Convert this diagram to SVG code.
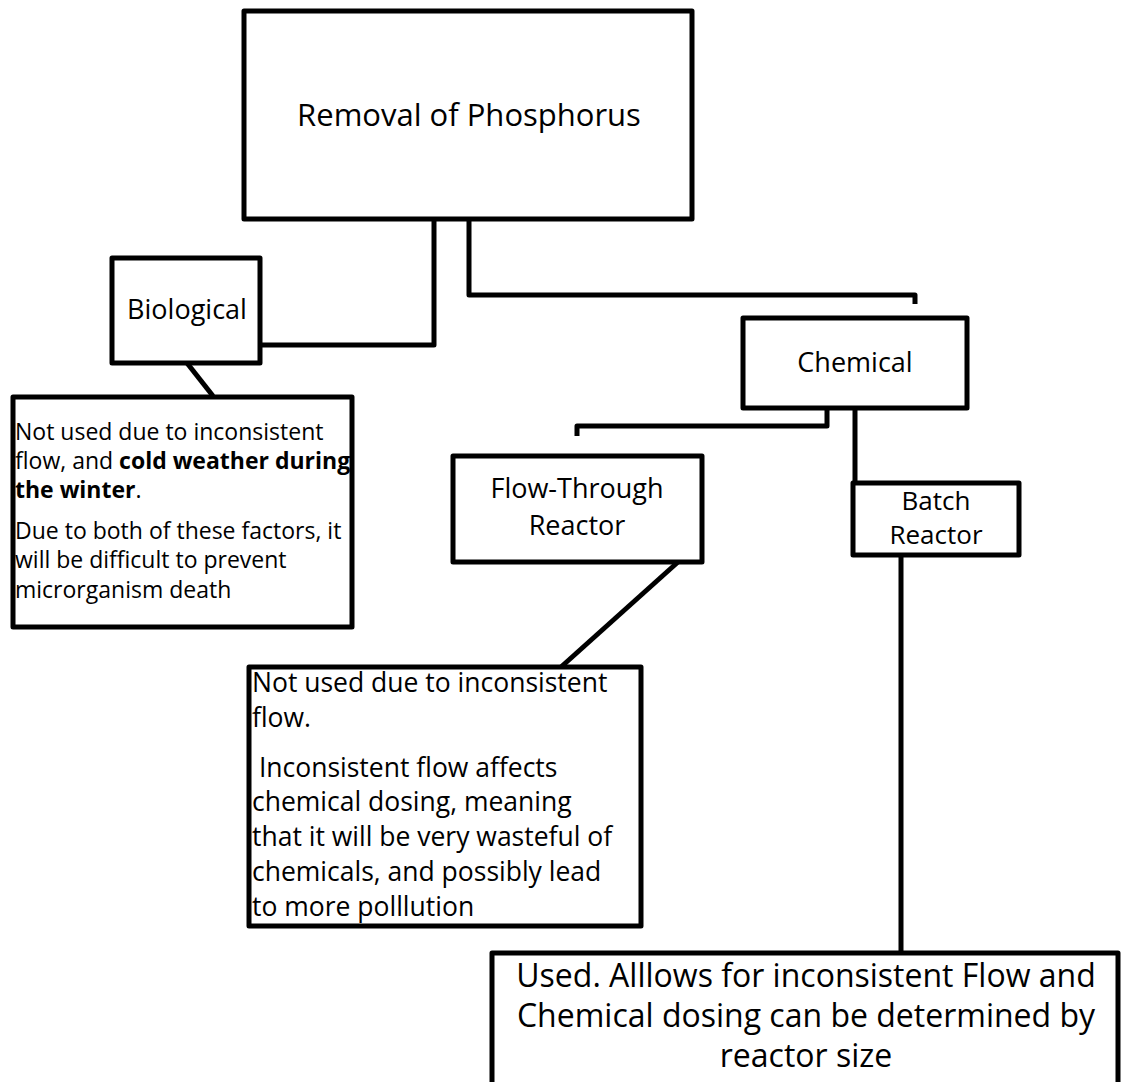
<svg xmlns="http://www.w3.org/2000/svg" width="1123" height="1082" viewBox="0 0 1123 1082">
  <style>
    .box { fill: #ffffff; stroke: #000000; stroke-width: 5; stroke-linejoin: round; }
    .wire { fill: none; stroke: #000000; stroke-width: 5; stroke-linejoin: round; }
    text { font-family: "Open Sans", "Noto Sans", "Liberation Sans", sans-serif; fill: #000000; }
    .title { font-size: 31px; text-anchor: middle; }
    .label { font-size: 27px; text-anchor: middle; }
    .label2 { font-size: 26px; text-anchor: middle; }
    .note { font-size: 23px; }
    .note2 { font-size: 26.5px; white-space: pre; }
    .note3 { font-size: 32px; text-anchor: middle; }
    .b { font-weight: bold; }
  </style>

  <rect width="1123" height="1082" fill="#ffffff"/>

  <!-- connectors -->
  <g id="connectors">
    <path class="wire" d="M434 220 V345 H260"/>
    <path class="wire" d="M469 220 V295 H915 V304"/>
    <path class="wire" d="M187 363 L213 396"/>
    <path class="wire" d="M827 408 V426 H577 V436"/>
    <path class="wire" d="M855 408 V483"/>
    <path class="wire" d="M678 562 L561 667"/>
    <path class="wire" d="M901 555 V953"/>
  </g>

  <!-- root -->
  <g id="node-removal">
    <rect class="box" x="244" y="11" width="448" height="208"/>
    <text class="title" x="469" y="126">Removal of Phosphorus</text>
  </g>

  <g id="node-biological">
    <rect class="box" x="112" y="258" width="148" height="105"/>
    <text class="label" x="187" y="319">Biological</text>
  </g>

  <g id="node-biological-note">
    <rect class="box" x="13" y="397" width="339" height="230"/>
    <text class="note" x="15" y="440">Not used due to inconsistent</text>
    <text class="note" x="15" y="469">flow, and <tspan class="b">cold weather during</tspan></text>
    <text class="note" x="15" y="498"><tspan class="b">the winter</tspan>.</text>
    <text class="note" x="15" y="539">Due to both of these factors, it</text>
    <text class="note" x="15" y="568">will be difficult to prevent</text>
    <text class="note" x="15" y="598">microrganism death</text>
  </g>

  <g id="node-chemical">
    <rect class="box" x="743" y="318" width="224" height="90"/>
    <text class="label" x="855" y="372">Chemical</text>
  </g>

  <g id="node-flow-through">
    <rect class="box" x="453" y="456" width="249" height="106"/>
    <text class="label" x="577" y="498">Flow-Through</text>
    <text class="label" x="577" y="535">Reactor</text>
  </g>

  <g id="node-batch">
    <rect class="box" x="853" y="483" width="166" height="72"/>
    <text class="label2" x="936" y="510">Batch</text>
    <text class="label2" x="936" y="544">Reactor</text>
  </g>

  <g id="node-flow-through-note">
    <rect class="box" x="249" y="667" width="392" height="259"/>
    <text class="note2" x="252" y="692">Not used due to inconsistent</text>
    <text class="note2" x="252" y="727">flow.</text>
    <text class="note2" x="252" y="777"> Inconsistent flow affects</text>
    <text class="note2" x="252" y="811">chemical dosing, meaning</text>
    <text class="note2" x="252" y="846">that it will be very wasteful of</text>
    <text class="note2" x="252" y="881">chemicals, and possibly lead</text>
    <text class="note2" x="252" y="916">to more polllution</text>
  </g>

  <g id="node-batch-note">
    <rect class="box" x="492" y="953" width="626" height="140"/>
    <text class="note3" x="806" y="987">Used. Alllows for inconsistent Flow and</text>
    <text class="note3" x="806" y="1027">Chemical dosing can be determined by</text>
    <text class="note3" x="806" y="1067">reactor size</text>
  </g>
</svg>
